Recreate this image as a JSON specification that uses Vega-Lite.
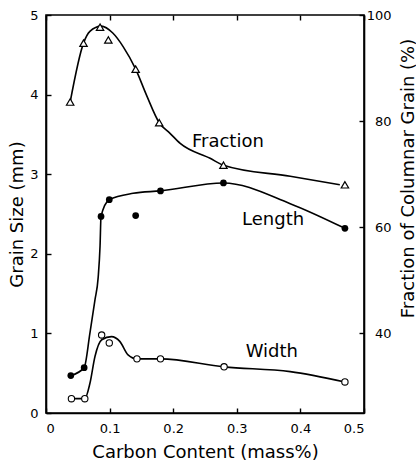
{
  "$schema": "https://vega.github.io/schema/vega-lite/v6.json",
  "width": 318,
  "height": 398,
  "autosize": "none",
  "padding": {"left": 46, "top": 15, "right": 52, "bottom": 51},
  "background": "white",
  "config": {
    "view": {"stroke": "black", "strokeWidth": 1.6},
    "font": "DejaVu Sans",
    "axis": {
      "domainColor": "black", "domainWidth": 1.6,
      "tickColor": "black", "tickWidth": 1.4, "tickSize": -5,
      "grid": false, "labelColor": "black", "titleColor": "black",
      "labelFont": "DejaVu Sans", "titleFont": "DejaVu Sans",
      "labelFontSize": 13, "titleFontSize": 18, "titleFontWeight": "normal"
    }
  },
  "datasets": {
    "points": [
      {"series": "Fraction", "carbon": 0.038, "value": 83.6},
      {"series": "Fraction", "carbon": 0.059, "value": 94.7},
      {"series": "Fraction", "carbon": 0.085, "value": 97.7},
      {"series": "Fraction", "carbon": 0.098, "value": 95.3},
      {"series": "Fraction", "carbon": 0.141, "value": 89.8},
      {"series": "Fraction", "carbon": 0.178, "value": 79.7},
      {"series": "Fraction", "carbon": 0.279, "value": 71.7},
      {"series": "Fraction", "carbon": 0.47, "value": 68.0},
      {"series": "Length", "carbon": 0.039, "value": 0.47},
      {"series": "Length", "carbon": 0.06, "value": 0.57},
      {"series": "Length", "carbon": 0.0865, "value": 2.47},
      {"series": "Length", "carbon": 0.0995, "value": 2.68},
      {"series": "Length", "carbon": 0.141, "value": 2.48},
      {"series": "Length", "carbon": 0.18, "value": 2.79},
      {"series": "Length", "carbon": 0.279, "value": 2.89},
      {"series": "Length", "carbon": 0.47, "value": 2.32},
      {"series": "Width", "carbon": 0.04, "value": 0.18},
      {"series": "Width", "carbon": 0.061, "value": 0.18},
      {"series": "Width", "carbon": 0.0875, "value": 0.98},
      {"series": "Width", "carbon": 0.0995, "value": 0.88},
      {"series": "Width", "carbon": 0.143, "value": 0.68},
      {"series": "Width", "carbon": 0.18, "value": 0.68},
      {"series": "Width", "carbon": 0.28, "value": 0.58},
      {"series": "Width", "carbon": 0.47, "value": 0.39}
    ],
    "curves": [
      {"series": "Fraction", "carbon": 0.038, "value": 83.6},
      {"series": "Fraction", "carbon": 0.059, "value": 94.7},
      {"series": "Fraction", "carbon": 0.069, "value": 96.9},
      {"series": "Fraction", "carbon": 0.087, "value": 97.9},
      {"series": "Fraction", "carbon": 0.105, "value": 96.6},
      {"series": "Fraction", "carbon": 0.1215, "value": 94.0},
      {"series": "Fraction", "carbon": 0.141, "value": 89.8},
      {"series": "Fraction", "carbon": 0.158, "value": 84.9},
      {"series": "Fraction", "carbon": 0.178, "value": 79.7},
      {"series": "Fraction", "carbon": 0.195, "value": 77.7},
      {"series": "Fraction", "carbon": 0.211, "value": 75.8},
      {"series": "Fraction", "carbon": 0.258, "value": 73.0},
      {"series": "Fraction", "carbon": 0.279, "value": 71.7},
      {"series": "Fraction", "carbon": 0.384, "value": 69.6},
      {"series": "Fraction", "carbon": 0.462, "value": 68.0},
      {"series": "Length", "carbon": 0.039, "value": 0.47},
      {"series": "Length", "carbon": 0.06, "value": 0.57},
      {"series": "Length", "carbon": 0.069, "value": 1.0},
      {"series": "Length", "carbon": 0.077, "value": 1.42},
      {"series": "Length", "carbon": 0.082, "value": 1.7},
      {"series": "Length", "carbon": 0.085, "value": 2.1},
      {"series": "Length", "carbon": 0.0865, "value": 2.47},
      {"series": "Length", "carbon": 0.0995, "value": 2.68},
      {"series": "Length", "carbon": 0.137, "value": 2.76},
      {"series": "Length", "carbon": 0.18, "value": 2.79},
      {"series": "Length", "carbon": 0.279, "value": 2.89},
      {"series": "Length", "carbon": 0.384, "value": 2.63},
      {"series": "Length", "carbon": 0.47, "value": 2.32},
      {"series": "Width", "carbon": 0.04, "value": 0.18},
      {"series": "Width", "carbon": 0.061, "value": 0.18},
      {"series": "Width", "carbon": 0.069, "value": 0.37},
      {"series": "Width", "carbon": 0.077, "value": 0.71},
      {"series": "Width", "carbon": 0.0876, "value": 0.92},
      {"series": "Width", "carbon": 0.103, "value": 0.96},
      {"series": "Width", "carbon": 0.116, "value": 0.9},
      {"series": "Width", "carbon": 0.129, "value": 0.73},
      {"series": "Width", "carbon": 0.143, "value": 0.68},
      {"series": "Width", "carbon": 0.18, "value": 0.68},
      {"series": "Width", "carbon": 0.28, "value": 0.58},
      {"series": "Width", "carbon": 0.384, "value": 0.52},
      {"series": "Width", "carbon": 0.47, "value": 0.39}
    ],
    "labels": [
      {"text": "Fraction", "carbon": 0.286, "value": 3.41},
      {"text": "Length", "carbon": 0.357, "value": 2.42},
      {"text": "Width", "carbon": 0.355, "value": 0.77}
    ]
  },
  "layer": [
    {
      "encoding": {
        "x": {"field": "carbon", "type": "quantitative", "scale": {"domain": [0, 0.5]},
              "axis": {"orient": "top", "labels": false, "title": null, "values": [0, 0.1, 0.2, 0.3, 0.4, 0.5], "domain": false}},
        "y": {"field": "value", "type": "quantitative", "scale": {"domain": [25, 100]},
              "axis": {"orient": "right", "values": [40, 60, 80, 100], "title": "Fraction of Columnar Grain (%)",
                       "labelAlign": "right", "labelPadding": 32, "titleAngle": 270,
                       "titleX": 44, "titleY": 163, "titleAlign": "center", "titleBaseline": "middle"}}
      },
      "layer": [
        {
          "data": {"name": "curves"},
          "transform": [{"filter": "datum.series === 'Fraction'"}],
          "mark": {"type": "line", "interpolate": "monotone", "color": "black", "strokeWidth": 1.6}
        },
        {
          "data": {"name": "points"},
          "transform": [{"filter": "datum.series === 'Fraction'"}],
          "mark": {"type": "point", "shape": "triangle-up", "size": 55, "filled": true, "fill": "white", "stroke": "black", "strokeWidth": 1.2, "opacity": 1}
        }
      ]
    },
    {
      "encoding": {
        "x": {"field": "carbon", "type": "quantitative", "scale": {"domain": [0, 0.5]},
              "axis": {"orient": "bottom", "values": [0, 0.1, 0.2, 0.3, 0.4, 0.5], "format": ".1~f",
                       "title": "Carbon Content (mass%)", "labelPadding": 14, "titlePadding": 8}},
        "y": {"field": "value", "type": "quantitative", "scale": {"domain": [0, 5]},
              "axis": {"orient": "left", "values": [0, 1, 2, 3, 4, 5], "title": "Grain Size (mm)",
                       "labelPadding": 13, "titlePadding": 3}}
      },
      "layer": [
        {
          "data": {"name": "curves"},
          "transform": [{"filter": "datum.series !== 'Fraction'"}],
          "mark": {"type": "line", "interpolate": "monotone", "color": "black", "strokeWidth": 1.6},
          "encoding": {"detail": {"field": "series"}}
        },
        {
          "data": {"name": "points"},
          "transform": [{"filter": "datum.series === 'Length'"}],
          "mark": {"type": "circle", "size": 45, "color": "black", "opacity": 1}
        },
        {
          "data": {"name": "points"},
          "transform": [{"filter": "datum.series === 'Width'"}],
          "mark": {"type": "point", "shape": "circle", "size": 40, "filled": true, "fill": "white", "stroke": "black", "strokeWidth": 1.1, "opacity": 1}
        },
        {
          "data": {"name": "labels"},
          "mark": {"type": "text", "font": "DejaVu Sans", "fontSize": 18, "color": "black", "align": "center", "baseline": "middle"},
          "encoding": {"text": {"field": "text"}}
        }
      ]
    }
  ],
  "resolve": {"scale": {"y": "independent"}, "axis": {"x": "independent"}}
}
